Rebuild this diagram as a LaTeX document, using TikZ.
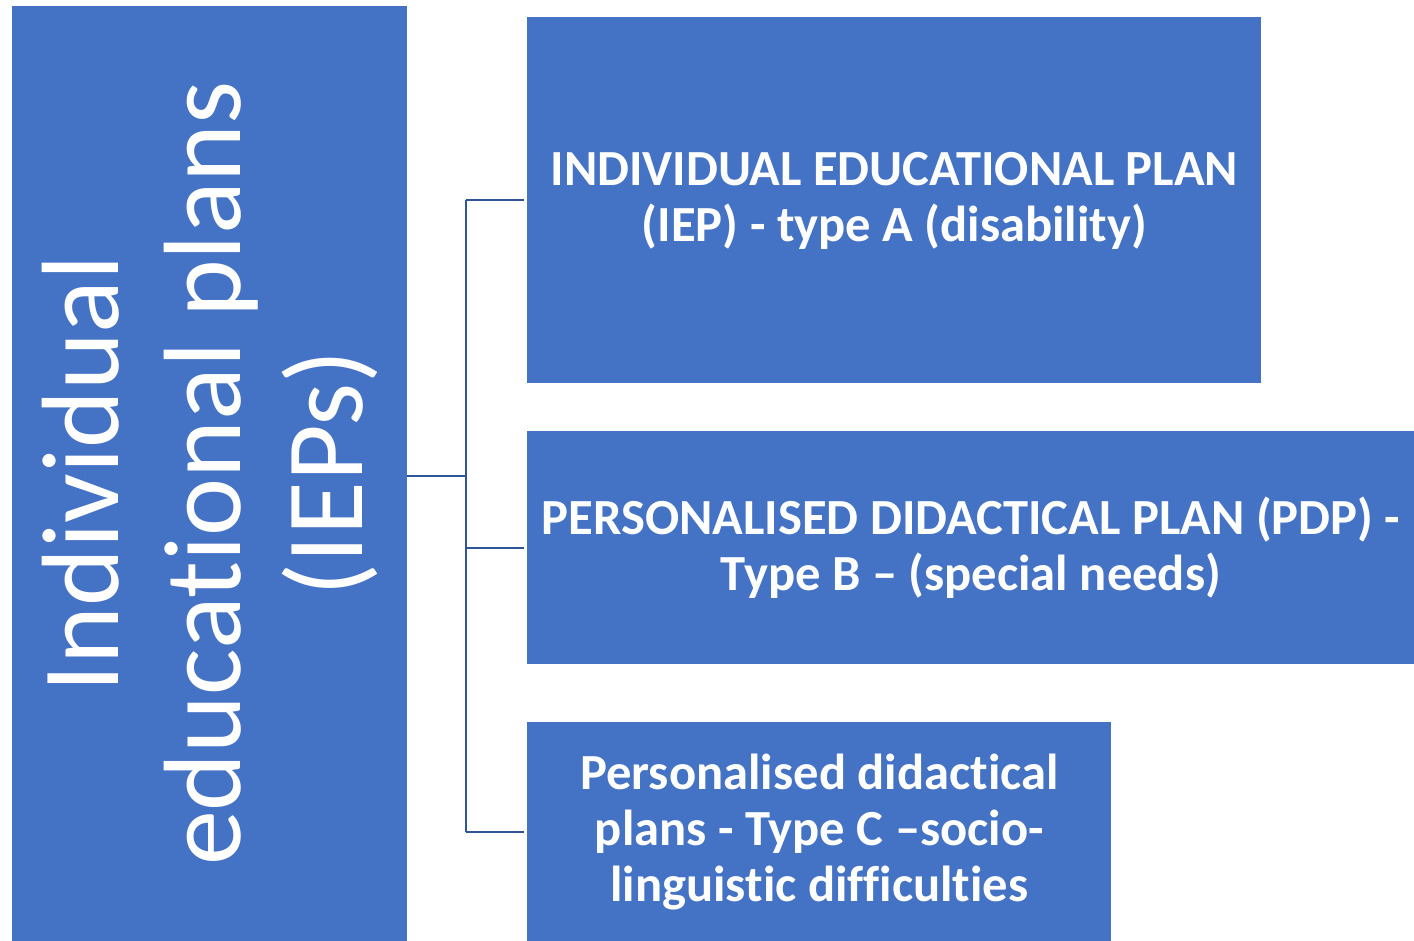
\documentclass[tikz,border=0pt]{standalone}
\usepackage{fontspec}
\setmainfont[Ligatures=NoCommon]{Carlito}
\usepackage{tikz}
\usetikzlibrary{positioning,calc}
\usepackage{xcolor}
\definecolor{boxblue}{HTML}{4472C4}
\definecolor{linkblue}{HTML}{2F5597}
\tikzset{
  plan/.style={fill=boxblue,draw=none,text=white,align=center,font=\bfseries\fontsize{25.3}{28}\selectfont,inner sep=0pt},
  group/.style={fill=boxblue,draw=none,text=white,align=center,font=\fontsize{55}{61}\selectfont,inner sep=0pt},
  link/.style={draw=linkblue,line width=1.1pt,shorten >=1.5pt}
}
\begin{document}
\begin{tikzpicture}[x=0.5pt,y=-0.5pt]
        \useasboundingbox (0,0) rectangle (1414,941);
        % big box on the left, text turned upwards
        \node[group,rotate=90,minimum width=467.5pt,minimum height=197.5pt] (ieps) at (209.5,473.5) {Individual\\educational plans\\(IEPs)};
        % the three plan boxes
        \node[plan,anchor=north west,minimum width=367pt,minimum height=183pt] (iep) at (527,17) {INDIVIDUAL EDUCATIONAL PLAN\\(IEP) - type A (disability)};
        \node[plan,anchor=north west,minimum width=443.5pt,minimum height=116.5pt] (pdp) at (527,431) {PERSONALISED DIDACTICAL PLAN (PDP) -\\Type B -- (special needs)};
        \node[plan,anchor=north west,minimum width=292pt,minimum height=109.5pt] (pdpc) at (527,722) {Personalised didactical\\plans - Type C --socio-\\linguistic difficulties};
        % tree lines
        \coordinate (hub) at (466,476);
        \draw[link,shorten >=0pt] (ieps.south |- hub) -- (hub);
        \draw[link,shorten >=0pt] (hub |- iep.west) -- (hub |- pdpc.west);
        \draw[link] (hub |- iep.west) -- (iep.west);
        \draw[link] (hub |- pdp.west) -- (pdp.west);
        \draw[link] (hub |- pdpc.west) -- (pdpc.west);
      \end{tikzpicture}
\end{document}
